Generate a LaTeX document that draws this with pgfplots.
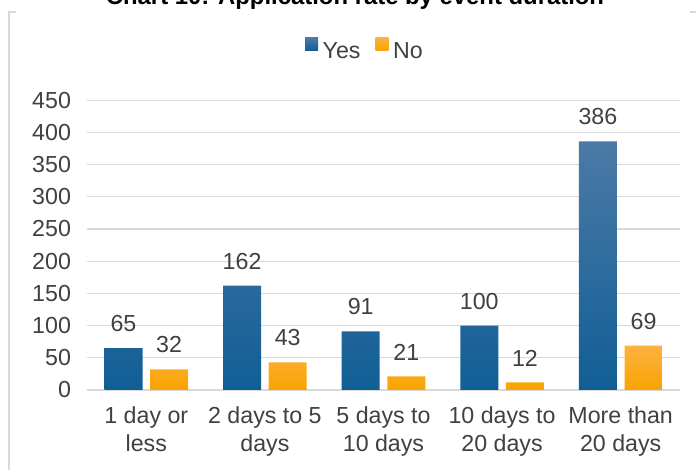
\documentclass[border=0pt]{standalone}
\usepackage{pgfplots}
\pgfplotsset{compat=1.18}
\usepackage{fontspec}
\setmainfont{Liberation Sans}
\definecolor{yesTop}{RGB}{76,122,166}
\definecolor{yesBot}{RGB}{16,94,150}
\definecolor{noTop}{RGB}{252,178,66}
\definecolor{noBot}{RGB}{250,163,0}
\definecolor{txt}{RGB}{64,64,64}
\definecolor{gridc}{RGB}{217,217,217}
\newcommand{\lbl}{\fontsize{17.4}{21}\selectfont}
\begin{document}
\begin{tikzpicture}
\useasboundingbox (0,0) rectangle (522pt,352.5pt);
\clip (0,0) rectangle (522pt,352.5pt);
\draw[gridc, line width=0.8pt] (6.75pt,0) -- (6.75pt,343.5pt) -- (12pt,343.5pt);
\draw[gridc, line width=0.8pt] (517.5pt,343.5pt) -- (522pt,343.5pt);
\node[anchor=base, inner sep=0pt, font=\fontsize{17.9}{21}\bfseries\selectfont] at (266.25pt,349.1pt) {Chart 10: Application rate by event duration};
\begin{axis}[
  at={(65.25pt,60pt)}, anchor=south west,
  scale only axis, width=444.75pt, height=217.35pt,
  xmin=-0.5, xmax=4.5, ymin=0, ymax=450,
  ytick={0,50,...,450}, xtick={0,1,2,3,4},
  /pgf/number format/assume math mode=true,
  xticklabels={{1 day or\\less},{2 days to 5\\days},{5 days to\\10 days},{10 days to\\20 days},{More than\\20 days}},
  axis line style={draw=none},
  major tick length=0pt,
  ymajorgrids, major grid style={gridc, line width=0.9pt},
  yticklabel style={font=\lbl, text=txt, xshift=-8.5pt},
  xticklabel style={font=\lbl, text=txt, align=center, yshift=-9pt},
  ybar=5.7pt, bar width=28.5pt,
  nodes near coords,
  every node near coord/.append style={font=\lbl, text=txt, inner sep=0pt, yshift=12pt},
  legend style={at={(0.467,1.177)}, anchor=center, draw=none, fill=none, font=\lbl, text=txt,
    nodes={inner sep=0pt},
    /tikz/every odd column/.append style={column sep=3.5pt},
    /tikz/every even column/.append style={column sep=11.25pt}},
  legend columns=2,
  legend image code/.code={\fill[#1] (0pt,0.8pt) rectangle (9.7pt,10.5pt);},
]
\addplot[draw=none, top color=yesTop, bottom color=yesBot] coordinates {(0,65) (1,162) (2,91) (3,100) (4,386)};
\addplot[draw=none, top color=noTop, bottom color=noBot] coordinates {(0,32) (1,43) (2,21) (3,12) (4,69)};
\legend{Yes,No}
\end{axis}
\end{tikzpicture}
\end{document}
